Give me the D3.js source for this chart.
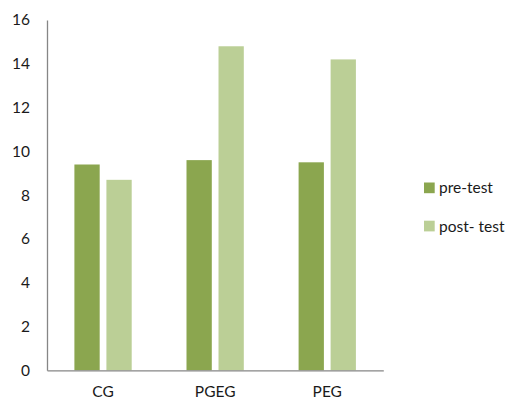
<!DOCTYPE html>
<html><head><meta charset="utf-8">
<script src="https://cdn.jsdelivr.net/npm/d3@7"></script>
<style>body{margin:0;background:#fff}svg{display:block}text{font-family:Lato,"Open Sans",sans-serif;fill:#1a1a1a}</style>
</head><body>
<script>
const categories = ["CG", "PGEG", "PEG"];
const seriesNames = ["pre-test", "post- test"];
const preTest = [9.4, 9.6, 9.5];
const postTest = [8.7, 14.8, 14.2];
const yTicks = [0, 2, 4, 6, 8, 10, 12, 14, 16];
const colors = ["#8ba64f", "#bbcf96"];

const W = 511, H = 401;
const FS = "15.5px";
const svg = d3.select("body").append("svg").attr("width", W).attr("height", H);
const x0 = d3.scaleBand().domain(categories).range([47, 383.3]).paddingInner(0).paddingOuter(0);
const y = d3.scaleLinear().domain([0, 16]).range([370.3, 20]);
const x1 = d3.scaleBand().domain(seriesNames).range([0, 57.3]).paddingInner(0.21);
const groupOff = (x0.bandwidth() - 57.3) / 2;

const rows = categories.map((c, i) => ({c, vals: [preTest[i], postTest[i]]}));
const g = svg.append("g");
g.selectAll("g.grp").data(rows).join("g").attr("class", "grp")
  .attr("transform", d => `translate(${x0(d.c) + groupOff},0)`)
  .selectAll("rect").data(d => d.vals.map((v, j) => ({v, s: seriesNames[j], j})))
  .join("rect")
  .attr("x", d => x1(d.s)).attr("width", x1.bandwidth())
  .attr("y", d => y(d.v)).attr("height", d => y(0) - y(d.v))
  .attr("fill", d => colors[d.j]);

// y axis
const yAxis = svg.append("g").attr("transform", "translate(47,0)")
  .call(d3.axisLeft(y).tickValues(yTicks).tickSize(0).tickPadding(17));
yAxis.select(".domain").attr("stroke", "#868686").attr("stroke-width", 1.3);
yAxis.selectAll("text").style("font-size", FS).attr("fill", "#1a1a1a").style("font-family", "Lato,'Open Sans',sans-serif");

// x axis
const xAxis = svg.append("g").attr("transform", "translate(0,370.3)")
  .call(d3.axisBottom(x0).tickSize(0).tickPadding(16));
xAxis.select(".domain").attr("stroke", "#868686").attr("stroke-width", 1.3);
xAxis.selectAll("text").style("font-size", FS).attr("fill", "#1a1a1a").style("font-family", "Lato,'Open Sans',sans-serif");

// legend
const leg = svg.append("g");
const legY = [182.5, 220.7];
seriesNames.forEach((s, i) => {
  leg.append("rect").attr("x", 424).attr("y", legY[i]).attr("width", 10.7).attr("height", 10.7).attr("fill", colors[i]);
  leg.append("text").attr("x", 439).attr("y", legY[i] + 5.4).attr("dy", "0.35em")
    .style("font-size", FS).text(s);
});
</script>
</body></html>
